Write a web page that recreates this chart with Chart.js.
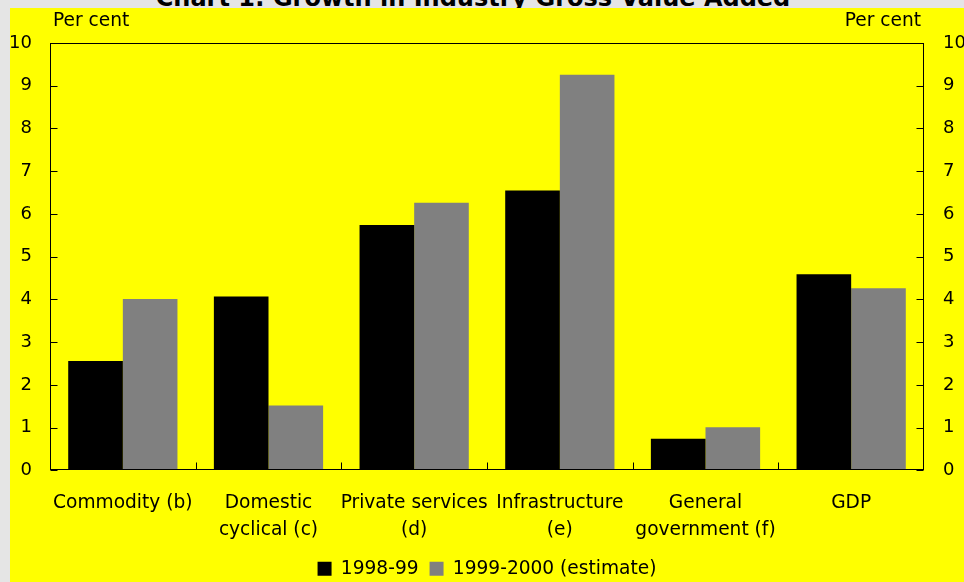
<!DOCTYPE html>
<html><head><meta charset="utf-8">
<script src="https://cdn.jsdelivr.net/npm/chart.js@4/dist/chart.umd.min.js"></script>
<style>
html,body{margin:0;padding:0;background:#e5e5e5;width:964px;height:582px;overflow:hidden;font-family:"DejaVu Sans",sans-serif;}
#title{position:absolute;left:0;width:946px;text-align:center;top:-14px;font:bold 24px "DejaVu Sans";line-height:24px;color:#000;white-space:nowrap;}
#wrap{position:absolute;left:10px;top:8px;width:954px;height:574px;background:#ffff00;overflow:hidden;}
canvas{display:block;}
</style></head><body>
<div id="title">Chart 1: Growth in Industry Gross Value Added</div>
<div id="wrap"><canvas id="c" width="954" height="580"></canvas></div>
<script>
const titleText = "Chart 1: Growth in Industry Gross Value Added";
const unitLabel = "Per cent";
const categories = [["Commodity (b)"], ["Domestic", "cyclical (c)"], ["Private services", "(d)"], ["Infrastructure", "(e)"], ["General", "government (f)"], ["GDP"]];
const seriesNames = ["1998-99", "1999-2000 (estimate)"];
const values1998_99 = [2.56, 4.07, 5.74, 6.55, 0.74, 4.59];
const values1999_2000 = [4.01, 1.52, 6.26, 9.26, 1.01, 4.26];
const yMin = 0, yMax = 10, yStep = 1;

const FONT = '"DejaVu Sans", sans-serif';
const TXT = 18.6;

const framePlugin = {
  id: 'frame',
  afterDatasetsDraw(chart) {
    const {ctx, chartArea: a, scales} = chart;
    ctx.save();
    ctx.strokeStyle = '#000';
    ctx.lineWidth = 1;
    const L = Math.round(a.left) + 0.5, R = Math.round(a.right) - 0.5;
    const T = Math.round(a.top) + 0.5, B = Math.round(a.bottom) - 0.5;
    ctx.strokeRect(L, T, R - L, B - T);
    ctx.beginPath();
    scales.y.ticks.forEach(t => {
      const y = Math.round(scales.y.getPixelForValue(t.value)) + 0.5;
      ctx.moveTo(L, y); ctx.lineTo(L + 7, y);
      ctx.moveTo(R, y); ctx.lineTo(R - 7, y);
    });
    const n = chart.data.labels.length;
    for (let i = 1; i < n; i++) {
      const x = Math.round((scales.x.getPixelForValue(i - 1) + scales.x.getPixelForValue(i)) / 2) + 0.5;
      ctx.moveTo(x, B); ctx.lineTo(x, B - 7);
    }
    ctx.stroke();
    ctx.fillStyle = '#000';
    ctx.font = TXT + 'px ' + FONT;
    ctx.textBaseline = 'middle';
    ctx.textAlign = 'left';
    ctx.fillText(unitLabel, a.left + 3, 13);
    ctx.textAlign = 'right';
    ctx.fillText(unitLabel, a.right - 3, 13);
    ctx.restore();
  }
};

const tickFont = {family: FONT, size: 18};

new Chart(document.getElementById('c'), {
  type: 'bar',
  data: {
    labels: categories,
    datasets: [
      {label: seriesNames[0], data: values1998_99, backgroundColor: '#000000', yAxisID: 'y'},
      {label: seriesNames[1], data: values1999_2000, backgroundColor: '#808080', yAxisID: 'y'}
    ]
  },
  options: {
    responsive: false,
    devicePixelRatio: 1,
    animation: false,
    categoryPercentage: 0.75,
    barPercentage: 1.0,
    layout: {padding: {top: 35, left: 0, right: 0, bottom: 0}},
    plugins: {
      title: {display: false},
      tooltip: {enabled: false},
      legend: {
        position: 'bottom',
        labels: {
          color: '#000', font: {family: FONT, size: TXT},
          boxWidth: 14, boxHeight: 14, padding: 11
        }
      }
    },
    scales: {
      x: {
        clip: false,
        grid: {display: false, drawTicks: false},
        border: {display: false},
        ticks: {color: '#000', font: {family: FONT, size: TXT, lineHeight: 1.47}, padding: 19, maxRotation: 0, minRotation: 0, autoSkip: false},
        afterFit(s) { s.height = 78; }
      },
      y: {
        position: 'left', min: yMin, max: yMax,
        grid: {drawOnChartArea: false, drawTicks: false},
        border: {display: false},
        ticks: {stepSize: yStep, color: '#000', font: tickFont, padding: 18},
        afterFit(s) { s.width = 40; }
      },
      y2: {
        position: 'right', min: yMin, max: yMax,
        grid: {drawOnChartArea: false, drawTicks: false},
        border: {display: false},
        ticks: {stepSize: yStep, color: '#000', font: tickFont, padding: 19},
        afterFit(s) { s.width = 40; }
      }
    }
  },
  plugins: [framePlugin]
});
</script>
</body></html>
